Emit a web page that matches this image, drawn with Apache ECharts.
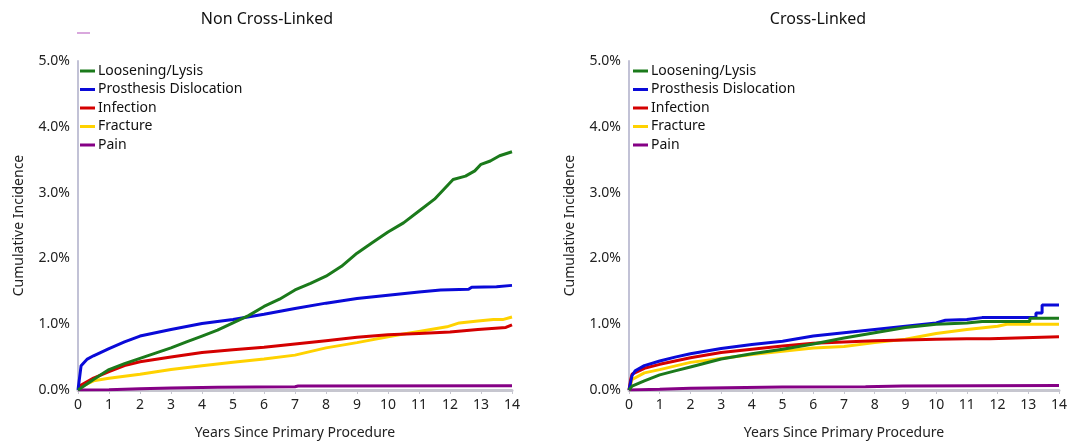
<!DOCTYPE html>
<html>
<head>
<meta charset="utf-8">
<script src="https://cdn.jsdelivr.net/npm/echarts@6/dist/echarts.min.js"></script>
<style>
html,body{margin:0;padding:0;background:#fff;}
#chart{width:1070px;height:446px;}
</style>
</head>
<body>
<div id="chart"></div>
<script>
// ---- Data (cumulative incidence, %) as [year, value] pairs ----
const panelTitles = ["Non Cross-Linked", "Cross-Linked"];
const seriesNames = ["Loosening/Lysis", "Prosthesis Dislocation", "Infection", "Fracture", "Pain"];
const seriesColors = ["#1b7a1b", "#0a0ad8", "#d40000", "#ffd200", "#850085"];
const yTicks = [0, 1, 2, 3, 4, 5];
const xTicks = [0,1,2,3,4,5,6,7,8,9,10,11,12,13,14];

// Non Cross-Linked
const nclLoosening = [[0,0],[0.25,0.08],[0.5,0.16],[1,0.31],[1.5,0.40],[2,0.48],[2.5,0.56],[3,0.64],[3.5,0.73],[4,0.82],[4.5,0.91],[5,1.02],[5.5,1.13],[6,1.27],[6.5,1.38],[7,1.52],[7.5,1.62],[8,1.73],[8.5,1.88],[9,2.08],[9.5,2.24],[10,2.40],[10.5,2.54],[11,2.72],[11.5,2.90],[12.1,3.20],[12.5,3.25],[12.8,3.33],[13,3.43],[13.3,3.48],[13.6,3.56],[14,3.62]];
const nclDislocation = [[0,0],[0.1,0.37],[0.3,0.47],[0.5,0.52],[1,0.63],[1.5,0.73],[2,0.82],[3,0.92],[4,1.01],[5,1.07],[6,1.15],[7,1.24],[8,1.32],[9,1.39],[10,1.44],[11,1.49],[11.7,1.52],[12.6,1.53],[12.7,1.56],[13.5,1.57],[14,1.59]];
const nclInfection = [[0,0.05],[0.5,0.18],[1,0.28],[1.5,0.37],[2,0.43],[3,0.50],[4,0.57],[5,0.61],[6,0.65],[7,0.70],[8,0.75],[9,0.80],[10,0.84],[11,0.86],[12,0.88],[12.9,0.92],[13.8,0.95],[14,0.99]];
const nclFracture = [[0,0.03],[0.5,0.14],[1,0.18],[2,0.24],[3,0.31],[4,0.37],[5,0.42],[6,0.47],[7,0.53],[8,0.64],[9,0.72],[10,0.81],[10.5,0.85],[11,0.89],[11.9,0.96],[12.3,1.02],[12.9,1.05],[13.4,1.07],[13.7,1.07],[14,1.11]];
const nclPain = [[0,0],[1,0.005],[2,0.02],[3,0.03],[4.5,0.04],[7,0.05],[7.1,0.06],[14,0.065]];

// Cross-Linked
const clLoosening = [[0,0],[0.1,0.06],[0.5,0.14],[1,0.23],[1.5,0.29],[2,0.35],[3,0.47],[4,0.55],[5,0.62],[6,0.70],[7,0.79],[8,0.87],[9,0.95],[10,1.0],[11,1.02],[11.5,1.04],[13.05,1.04],[13.05,1.09],[14,1.09]];
const clDislocation = [[0,0],[0.1,0.22],[0.2,0.29],[0.5,0.37],[1,0.44],[1.5,0.50],[2,0.55],[3,0.63],[4,0.69],[5,0.74],[6,0.82],[7,0.87],[8,0.92],[9,0.97],[10,1.02],[10.3,1.06],[11,1.07],[11.5,1.10],[13.25,1.10],[13.25,1.17],[13.45,1.17],[13.45,1.29],[14,1.29]];
const clInfection = [[0,0],[0.05,0.15],[0.1,0.24],[0.5,0.33],[1,0.39],[2,0.49],[3,0.57],[4,0.62],[5,0.67],[6,0.71],[7,0.73],[8,0.75],[9,0.76],[10,0.77],[11,0.78],[11.75,0.78],[11.75,0.81],[14,0.81]];
const clFracture = [[0,0],[0.1,0.16],[0.5,0.26],[1,0.31],[2,0.42],[3,0.48],[4,0.54],[5,0.59],[6,0.64],[7,0.66],[8,0.72],[9,0.77],[10,0.86],[11,0.92],[12,0.97],[12.3,1.0],[14,1.0]];
const clPain = [[0,0],[1,0.01],[2,0.025],[5,0.045],[7.7,0.05],[7.7,0.06],[8.9,0.06],[8.9,0.07],[14,0.07]];

const panelData = [
  [nclLoosening, nclDislocation, nclInfection, nclFracture, nclPain],
  [clLoosening, clDislocation, clInfection, clFracture, clPain]
];

// ---- Layout ----
const FONT = "'Noto Sans', 'Open Sans', sans-serif";
const gridLefts = [78, 629];
const titleCenters = [267, 818];
const gridW = 434, gridTop = 61, gridH = 329;

const chart = echarts.init(document.getElementById('chart'), null, {renderer: 'canvas'});

const grids = [], xAxes = [], yAxes = [], series = [], titles = [], legends = [];
panelTitles.forEach((t, p) => {
  grids.push({left: gridLefts[p], top: gridTop, width: gridW, height: gridH, containLabel: false});
  titles.push({
    text: t, left: titleCenters[p] - 5, top: 6, textAlign: 'center',
    textStyle: {fontFamily: FONT, fontSize: 16, fontWeight: 'normal', color: '#111'}
  });
  xAxes.push({
    type: 'value', gridIndex: p, min: xTicks[0], max: xTicks[xTicks.length - 1], interval: 1,
    name: 'Years Since Primary Procedure', nameLocation: 'middle', nameGap: 36,
    nameTextStyle: {fontFamily: FONT, fontSize: 14, color: '#222'},
    axisLine: {show: true, onZero: false, lineStyle: {color: '#c6c6cf', width: 3}},
    axisTick: {show: true, length: 4, lineStyle: {color: '#c6c6cf', width: 1}},
    axisLabel: {fontFamily: FONT, fontSize: 14, color: '#222', margin: 8},
    splitLine: {show: false}
  });
  yAxes.push({
    type: 'value', gridIndex: p, min: yTicks[0], max: yTicks[yTicks.length - 1], interval: 1,
    name: 'Cumulative Incidence', nameLocation: 'middle', nameGap: 52, nameRotate: 90,
    nameTextStyle: {fontFamily: FONT, fontSize: 14, color: '#222'},
    axisLine: {show: true, lineStyle: {color: '#c2c2d6', width: 2}},
    axisTick: {show: false},
    axisLabel: {fontFamily: FONT, fontSize: 14, color: '#222', margin: 8,
      formatter: v => v.toFixed(1) + '%'},
    splitLine: {show: false}
  });
  legends.push({
    data: seriesNames, orient: 'vertical', left: gridLefts[p] - 3 + (p ? 2 : 0), top: 59,
    itemWidth: 15, itemHeight: 3, itemGap: 4.5, icon: 'rect', selectedMode: false,
    textStyle: {fontFamily: FONT, fontSize: 14, color: '#111', padding: [0, 0, 0, -2]}
  });
  seriesNames.forEach((n, i) => {
    series.push({
      name: n, type: 'line', xAxisIndex: p, yAxisIndex: p,
      data: panelData[p][i], showSymbol: false, symbol: 'none',
      lineStyle: {color: seriesColors[i], width: 3}, itemStyle: {color: seriesColors[i]},
      z: 10 - i
    });
  });
});

chart.setOption({
  animation: false,
  backgroundColor: '#fff',
  title: titles,
  legend: legends,
  grid: grids,
  xAxis: xAxes,
  yAxis: yAxes,
  series: series,
  graphic: [{
    type: 'line', shape: {x1: 77, y1: 33, x2: 90, y2: 33},
    style: {stroke: '#d9a8dd', lineWidth: 2}
  }]
});
</script>
</body>
</html>
